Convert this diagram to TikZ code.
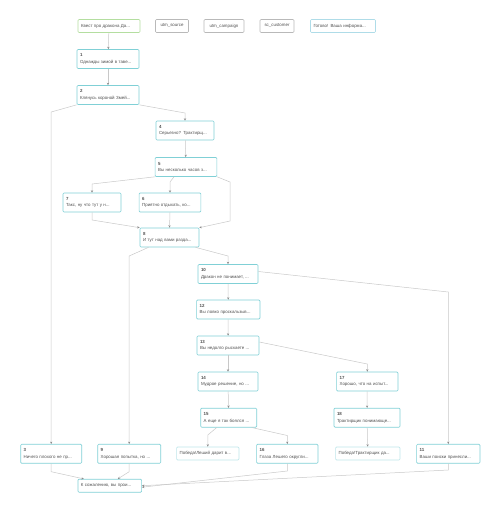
\documentclass[tikz,border=0pt]{standalone}
\usepackage{fontspec}
\setmainfont{Liberation Sans}
\usetikzlibrary{arrows.meta}
\definecolor{tealc}{RGB}{128,208,214}
\definecolor{lteal}{RGB}{190,230,234}
\definecolor{greenc}{RGB}{180,222,160}
\definecolor{grayc}{RGB}{185,185,185}
\definecolor{readyc}{RGB}{175,220,232}
\definecolor{linec}{RGB}{200,200,200}
\definecolor{tipc}{RGB}{140,140,140}
\definecolor{textc}{RGB}{80,80,80}
\tikzset{
  box/.style={draw=tealc, rounded corners=1pt, line width=0.65pt, fill=white,
    font=\fontsize{4.4}{6.6}\selectfont, text=textc, inner xsep=3pt, inner ysep=1pt,
    align=left, minimum height=19pt},
  tbox/.style={box, minimum height=13pt},
  edge/.style={draw=linec, line width=0.5pt, -{Stealth[length=2.4pt,width=2.2pt,color=tipc]}}
}
\begin{document}
\begin{tikzpicture}[x=1pt,y=-1pt]
\useasboundingbox (0,0) rectangle (496,509);
% top row
\node[tbox, draw=greenc, text width=56pt] (q) at (109,26) {Квест про дракона Да...};
\node[tbox, draw=grayc, line width=0.6pt, align=center, minimum width=33pt] (us) at (172,26) {utm\_source};
\node[tbox, draw=grayc, line width=0.6pt, align=center, minimum width=40pt] (uc) at (224,26) {utm\_campaign};
\node[tbox, draw=grayc, line width=0.6pt, align=center, minimum width=34pt] (sc) at (277,26) {sc\_customer};
\node[tbox, draw=readyc, text width=59pt] (ready) at (343,26) {Готово! Ваша информа...};
% main nodes
\node[box, text width=56pt] (n1) at (108,59) {\textbf{1}\\Однажды зимой в таве...};
\node[box, text width=56pt] (n2) at (108,95) {\textbf{2}\\Клянусь короной Змей...};
\node[box, text width=52pt] (n4) at (185,130.5) {\textbf{4}\\Серьезно? Трактирщ...};
\node[box, text width=55.7pt] (n5) at (186,167) {\textbf{5}\\Вы несколько часов з...};
\node[box, text width=52pt] (n7) at (92,202.5) {\textbf{7}\\Такс, ну что тут у н...};
\node[box, text width=55.7pt] (n6) at (170,202.5) {\textbf{6}\\Приятно отдыхать, ко...};
\node[box, text width=53pt] (n8) at (169.5,237.5) {\textbf{8}\\И тут над вами разда...};
\node[box, text width=54pt] (n10) at (228,274) {\textbf{10}\\Дракон не понимает, ...};
\node[box, text width=57.3pt] (n12) at (228.3,309.5) {\textbf{12}\\Вы ловко проскальзыв...};
\node[box, text width=56pt] (n13) at (228,345.5) {\textbf{13}\\Вы недолго рыскаете ...};
\node[box, text width=54pt] (n14) at (228,381.5) {\textbf{14}\\Мудрое решение, но ...};
\node[box, text width=55.3pt] (n17) at (367.3,381.5) {\textbf{17}\\Хорошо, что на испыт...};
\node[box, text width=50pt] (n15) at (228.7,417.7) {\textbf{15}\\А еще я так боялся ...};
\node[box, text width=60pt] (n18) at (367,417.7) {\textbf{18}\\Трактирщик понимающе...};
\node[box, text width=55pt] (n3) at (51.2,453.8) {\textbf{3}\\Ничего плохого не пр...};
\node[box, text width=57pt] (n9) at (129.2,453.8) {\textbf{9}\\Хорошая попытка, но ...};
\node[tbox, draw=lteal, text width=56.3pt] (pl) at (207.8,453.5) {Победа!Леший дарит в...};
\node[box, text width=55.3pt] (n16) at (287.3,453.8) {\textbf{16}\\Глаза Лешего округли...};
\node[tbox, draw=lteal, text width=58.3pt] (pt) at (367.8,453.5) {Победа!Трактирщик да...};
\node[box, text width=57.3pt] (n11) at (448.3,453.8) {\textbf{11}\\Ваши поиски принесли...};
\node[tbox, text width=57.7pt] (fail) at (109.8,485.7) {К сожалению, вы прои...};
% bend points
\coordinate (b23) at (51.2,112);
\coordinate (b24) at (185,113);
\coordinate (b57) at (92,184);
\coordinate (b56) at (170,182);
\coordinate (b58a) at (230,182);
\coordinate (b58b) at (230,221);
\coordinate (b78) at (92,220);
\coordinate (b89) at (129.2,256);
\coordinate (b810) at (228,256);
\coordinate (b1011) at (448.3,292);
\coordinate (b1317) at (367.3,364);
\coordinate (b15pl) at (207.8,435);
\coordinate (b1516) at (287.3,435.5);
\coordinate (b3f) at (51.2,471.7);
\coordinate (b9f) at (129.2,471.7);
\coordinate (b16f) at (287.3,471);
\coordinate (b11f) at (448.3,470);
% edges
\draw[edge] (q) -- (n1);
\draw[edge] (n1) -- (n2);
\draw[edge] (n2.south west) -- (b23) -- (n3.north);
\draw[edge] (n2.south east) -- (b24) -- (n4.north);
\draw[edge] (n4) -- (n5);
\draw[edge] (n5.south west) -- (b57) -- (n7.north);
\draw[edge] ([xshift=-12pt]n5.south) -- (b56) -- (n6.north);
\draw[edge] (n5.south east) -- (b58a) -- (b58b) -- (n8.north east);
\draw[edge] (n7.south) -- (b78) -- (n8.north west);
\draw[edge] (n6.south) -- (n8.north);
\draw[edge] ([xshift=-21pt]n8.south) -- (b89) -- (n9.north);
\draw[edge] ([xshift=26pt]n8.south) -- (b810) -- (n10.north);
\draw[edge] (n10) -- (n12);
\draw[edge] ([yshift=2.5pt]n10.east) -- (b1011) -- (n11.north);
\draw[edge] (n12) -- (n13);
\draw[edge] ([yshift=3.5pt]n13.east) -- (b1317) -- (n17.north);
\draw[edge] (n13) -- (n14);
\draw[edge] (n14) -- (n15);
\draw[edge] (n17) -- (n18);
\draw[edge] ([xshift=-12pt]n15.south) -- (b15pl) -- (pl.north);
\draw[edge] ([xshift=23pt]n15.south) -- (b1516) -- (n16.north);
\draw[edge] (n18) -- (pt);
\draw[edge] (n3.south) -- (b3f) -- ([xshift=-26pt]fail.north);
\draw[edge] (n9.south) -- (b9f) -- ([xshift=8pt]fail.north);
\draw[edge] (n16.south) -- (b16f) -- ([yshift=-1.5pt]fail.east);
\draw[edge] (n11.south) -- (b11f) -- ([yshift=0pt]fail.east);
\end{tikzpicture}
\end{document}
